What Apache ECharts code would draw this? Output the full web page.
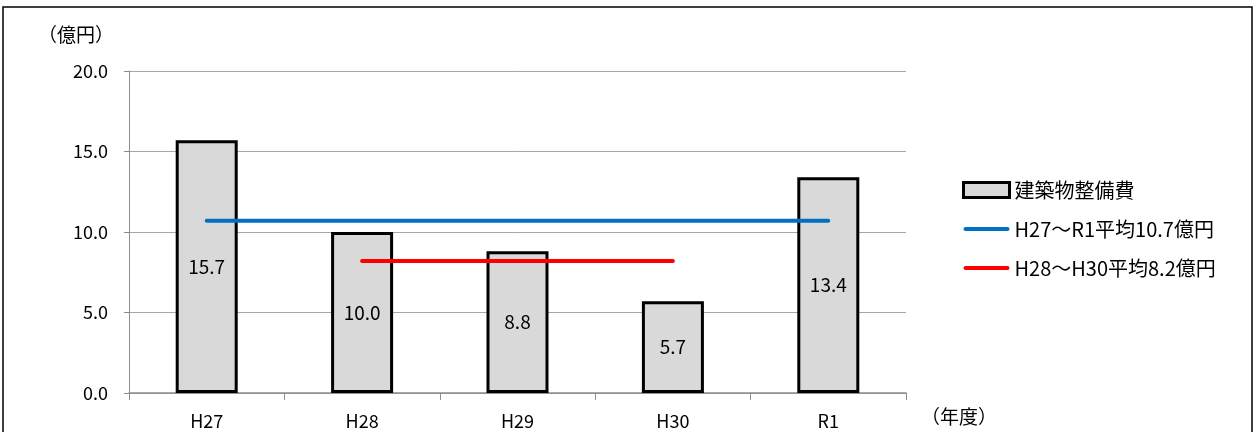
<!DOCTYPE html>
<html><head><meta charset="utf-8">
<script src="https://cdn.jsdelivr.net/npm/echarts@6/dist/echarts.min.js"></script>
<style>html,body{margin:0;padding:0;background:#fff}#c{width:1256px;height:432px}</style>
</head><body><div id="c"></div>
<script>
const categories = ['H27','H28','H29','H30','R1'];
const buildingCost = [15.7, 10.0, 8.8, 5.7, 13.4];
const avgAll = [10.7, 10.7, 10.7, 10.7, 10.7];
const avgMid = [null, 8.2, 8.2, 8.2, null];
const seriesNames = ['建築物整備費', 'H27～R1平均10.7億円', 'H28～H30平均8.2億円'];

const font = '"Noto Sans CJK JP", "Noto Sans", sans-serif';
const lineIcon = 'path://M2,0 L44,0 A2,2 0 0 1 44,4 L2,4 A2,2 0 0 1 2,0 Z';
const chart = echarts.init(document.getElementById('c'));
chart.setOption({
  animation: false,
  textStyle: { fontFamily: font },
  grid: { left: 129, right: 350, top: 71, bottom: 39 },
  graphic: [
    { type: 'rect', shape: { x: 3, y: 7, width: 1249, height: 440 }, style: { fill: 'none', stroke: '#000', lineWidth: 1.5 } },
    { type: 'text', left: 38, top: 25, style: { text: '（億円）', fontSize: 19, fontFamily: font, fill: '#000' } },
    { type: 'text', left: 921, top: 407, style: { text: '（年度）', fontSize: 19, fontFamily: font, fill: '#000' } }
  ],
  legend: {
    orient: 'vertical', left: 962, top: 180, itemGap: 19, padding: 0,
    itemWidth: 46, itemHeight: 15,
    textStyle: { fontSize: 20, lineHeight: 20, color: '#000', fontFamily: font },
    data: [
      { name: seriesNames[0], icon: 'rect', itemStyle: { color: '#d9d9d9', borderColor: '#000', borderWidth: 3 } },
      { name: seriesNames[1], icon: lineIcon, itemStyle: { color: '#0070c0', borderWidth: 0 } },
      { name: seriesNames[2], icon: lineIcon, itemStyle: { color: '#ff0000', borderWidth: 0 } }
    ]
  },
  xAxis: {
    type: 'category', data: categories,
    axisLine: { lineStyle: { color: '#8c8c8c', width: 1.5 } },
    axisTick: { show: true, length: 7, lineStyle: { color: '#8c8c8c' } },
    axisLabel: { color: '#000', fontSize: 18, margin: 19 }
  },
  yAxis: {
    type: 'value', min: 0, max: 20, interval: 5,
    axisLine: { show: true, lineStyle: { color: '#8c8c8c' } },
    axisTick: { show: true, length: 5, lineStyle: { color: '#8c8c8c' } },
    axisLabel: { color: '#000', fontSize: 18, margin: 21, formatter: v => v.toFixed(1) },
    splitLine: { lineStyle: { color: '#a6a6a6', width: 1 } }
  },
  series: [
    {
      name: seriesNames[0], type: 'bar', data: buildingCost, barWidth: 62,
      itemStyle: { color: '#d9d9d9', borderColor: '#000', borderWidth: 3 },
      label: { show: true, position: 'inside', color: '#000', fontSize: 19, formatter: p => p.value.toFixed(1) },
      z: 2
    },
    {
      name: seriesNames[1], type: 'line', data: avgAll, symbol: 'none',
      lineStyle: { color: '#0070c0', width: 4, cap: 'round' }, itemStyle: { color: '#0070c0' }, z: 3
    },
    {
      name: seriesNames[2], type: 'line', data: avgMid, symbol: 'none',
      lineStyle: { color: '#ff0000', width: 4, cap: 'round' }, itemStyle: { color: '#ff0000' }, z: 3
    }
  ]
});
</script></body></html>
